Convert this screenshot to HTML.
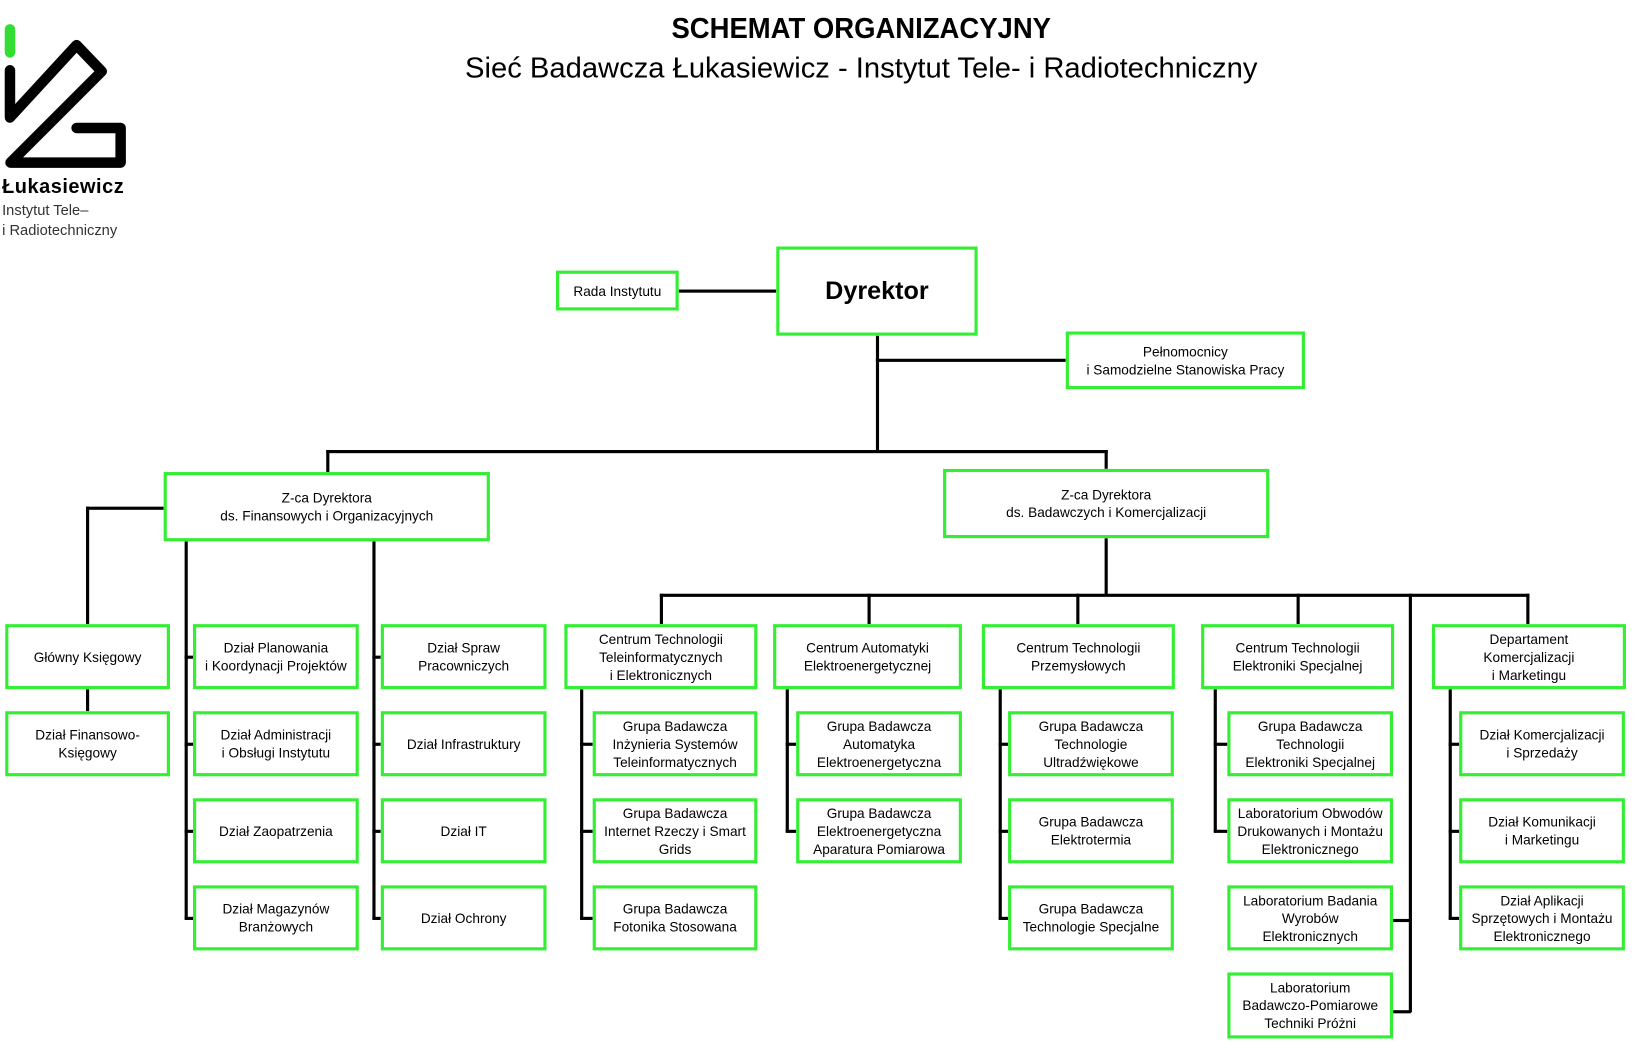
<!DOCTYPE html>
<html><head><meta charset="utf-8"><style>
html,body{margin:0;padding:0;background:#fff;}
body{width:1644px;height:1042px;overflow:hidden;position:relative;}
#w{position:absolute;left:0;top:0;width:1567px;height:993px;transform:scale(1.049,1.049);transform-origin:0 0;font-family:"Liberation Sans",Arial,sans-serif;}
.b{position:absolute;box-sizing:border-box;border:3px solid #33ee33;display:flex;align-items:center;justify-content:center;text-align:center;font-size:13px;line-height:17px;color:#000;background:#fff;}
.h{position:absolute;background:#000;height:2.5px;}
.v{position:absolute;background:#000;width:2.5px;}
.t{position:absolute;white-space:nowrap;}
</style></head><body><div id="w">
<svg style="position:absolute;left:0;top:0" width="140" height="170">
<line x1="9.5" y1="28" x2="9.5" y2="50" stroke="#33dd33" stroke-width="10" stroke-linecap="round"/>
<polyline points="9.5,67 9.5,112 73,43 97,68 10,155 115,155 115,122 73,122" fill="none" stroke="#000" stroke-width="10" stroke-linejoin="round" stroke-linecap="round"/>
</svg>
<div class="t" style="left:2px;top:168px;font-size:19px;font-weight:bold;letter-spacing:0.5px">Łukasiewicz</div>
<div class="t" style="left:2px;top:192px;font-size:14px;color:#333">Instytut Tele–</div>
<div class="t" style="left:2px;top:211px;font-size:14px;color:#333">i Radiotechniczny</div>
<div class="t" style="left:0;width:1642px;top:12px;text-align:center;font-size:27px;font-weight:bold;transform:scaleX(0.97)">SCHEMAT ORGANIZACYJNY</div>
<div class="t" style="left:0;width:1642px;top:50px;text-align:center;font-size:27px;transform:scaleX(1.03)">Sieć Badawcza Łukasiewicz - Instytut Tele- i Radiotechniczny</div>

<!-- lines -->
<div class="h" style="left:647px;top:276px;width:93px"></div>
<div class="v" style="left:835px;top:320px;height:111px"></div>
<div class="h" style="left:835px;top:342px;width:181px"></div>
<div class="h" style="left:311px;top:429px;width:745px"></div>
<div class="v" style="left:311px;top:429px;height:21px"></div>
<div class="v" style="left:1053px;top:429px;height:18px"></div>
<div class="h" style="left:82px;top:483px;width:74px"></div>
<div class="v" style="left:82px;top:483px;height:112px"></div>
<div class="v" style="left:82px;top:657px;height:21px"></div>
<div class="v" style="left:176px;top:516px;height:360px"></div>
<div class="v" style="left:355px;top:516px;height:360px"></div>
<div class="h" style="left:176px;top:625px;width:8px"></div><div class="h" style="left:176px;top:708px;width:8px"></div><div class="h" style="left:176px;top:791px;width:8px"></div><div class="h" style="left:176px;top:874px;width:8px"></div>
<div class="h" style="left:355px;top:625px;width:8px"></div><div class="h" style="left:355px;top:708px;width:8px"></div><div class="h" style="left:355px;top:791px;width:8px"></div><div class="h" style="left:355px;top:874px;width:8px"></div>
<div class="v" style="left:1053px;top:513px;height:55px"></div>
<div class="h" style="left:629px;top:566px;width:829px"></div>
<div class="v" style="left:629px;top:566px;height:29px"></div>
<div class="v" style="left:827px;top:566px;height:29px"></div>
<div class="v" style="left:1026px;top:566px;height:29px"></div>
<div class="v" style="left:1236px;top:566px;height:29px"></div>
<div class="v" style="left:1455px;top:566px;height:29px"></div>
<div class="v" style="left:1343px;top:566px;height:399px"></div>
<div class="h" style="left:1328px;top:876px;width:17px"></div>
<div class="h" style="left:1328px;top:963px;width:17px"></div>
<div class="v" style="left:553px;top:657px;height:219px"></div>
<div class="h" style="left:553px;top:708px;width:12px"></div><div class="h" style="left:553px;top:791px;width:12px"></div><div class="h" style="left:553px;top:874px;width:12px"></div>
<div class="v" style="left:749px;top:657px;height:136px"></div>
<div class="h" style="left:749px;top:708px;width:10px"></div><div class="h" style="left:749px;top:791px;width:10px"></div>
<div class="v" style="left:952px;top:657px;height:219px"></div>
<div class="h" style="left:952px;top:708px;width:9px"></div><div class="h" style="left:952px;top:791px;width:9px"></div><div class="h" style="left:952px;top:874px;width:9px"></div>
<div class="v" style="left:1157px;top:657px;height:136px"></div>
<div class="h" style="left:1157px;top:708px;width:13px"></div><div class="h" style="left:1157px;top:791px;width:13px"></div>
<div class="v" style="left:1381px;top:657px;height:219px"></div>
<div class="h" style="left:1381px;top:708px;width:10px"></div><div class="h" style="left:1381px;top:791px;width:10px"></div><div class="h" style="left:1381px;top:874px;width:10px"></div>

<!-- boxes -->
<div class="b" style="left:530px;top:258px;width:117px;height:38px">Rada Instytutu</div>
<div class="b" style="left:740px;top:235px;width:192px;height:85px;font-size:24px;font-weight:bold">Dyrektor</div>
<div class="b" style="left:1016px;top:316px;width:228px;height:55px">Pełnomocnicy<br>i Samodzielne Stanowiska Pracy</div>
<div class="b" style="left:156px;top:450px;width:311px;height:66px">Z-ca Dyrektora<br>ds. Finansowych i Organizacyjnych</div>
<div class="b" style="left:899px;top:447px;width:311px;height:66px">Z-ca Dyrektora<br>ds. Badawczych i Komercjalizacji</div>

<div class="b" style="left:5px;top:595px;width:157px;height:62px">Główny Księgowy</div>
<div class="b" style="left:184px;top:595px;width:158px;height:62px">Dział Planowania<br>i Koordynacji Projektów</div>
<div class="b" style="left:363px;top:595px;width:158px;height:62px">Dział Spraw<br>Pracowniczych</div>
<div class="b" style="left:538px;top:595px;width:184px;height:62px">Centrum Technologii<br>Teleinformatycznych<br>i Elektronicznych</div>
<div class="b" style="left:737px;top:595px;width:180px;height:62px">Centrum Automatyki<br>Elektroenergetycznej</div>
<div class="b" style="left:936px;top:595px;width:184px;height:62px">Centrum Technologii<br>Przemysłowych</div>
<div class="b" style="left:1145px;top:595px;width:184px;height:62px">Centrum Technologii<br>Elektroniki Specjalnej</div>
<div class="b" style="left:1365px;top:595px;width:185px;height:62px">Departament<br>Komercjalizacji<br>i Marketingu</div>

<div class="b" style="left:5px;top:678px;width:157px;height:62px">Dział Finansowo-<br>Księgowy</div>
<div class="b" style="left:184px;top:678px;width:158px;height:62px">Dział Administracji<br>i Obsługi Instytutu</div>
<div class="b" style="left:363px;top:678px;width:158px;height:62px">Dział Infrastruktury</div>
<div class="b" style="left:565px;top:678px;width:157px;height:62px">Grupa Badawcza<br>Inżynieria Systemów<br>Teleinformatycznych</div>
<div class="b" style="left:759px;top:678px;width:158px;height:62px">Grupa Badawcza<br>Automatyka<br>Elektroenergetyczna</div>
<div class="b" style="left:961px;top:678px;width:158px;height:62px">Grupa Badawcza<br>Technologie<br>Ultradźwiękowe</div>
<div class="b" style="left:1170px;top:678px;width:158px;height:62px">Grupa Badawcza<br>Technologii<br>Elektroniki Specjalnej</div>
<div class="b" style="left:1391px;top:678px;width:158px;height:62px">Dział Komercjalizacji<br>i Sprzedaży</div>

<div class="b" style="left:184px;top:761px;width:158px;height:62px">Dział Zaopatrzenia</div>
<div class="b" style="left:363px;top:761px;width:158px;height:62px">Dział IT</div>
<div class="b" style="left:565px;top:761px;width:157px;height:62px">Grupa Badawcza<br>Internet Rzeczy i Smart<br>Grids</div>
<div class="b" style="left:759px;top:761px;width:158px;height:62px">Grupa Badawcza<br>Elektroenergetyczna<br>Aparatura Pomiarowa</div>
<div class="b" style="left:961px;top:761px;width:158px;height:62px">Grupa Badawcza<br>Elektrotermia</div>
<div class="b" style="left:1170px;top:761px;width:158px;height:62px">Laboratorium Obwodów<br>Drukowanych i Montażu<br>Elektronicznego</div>
<div class="b" style="left:1391px;top:761px;width:158px;height:62px">Dział Komunikacji<br>i Marketingu</div>

<div class="b" style="left:184px;top:844px;width:158px;height:62px">Dział Magazynów<br>Branżowych</div>
<div class="b" style="left:363px;top:844px;width:158px;height:62px">Dział Ochrony</div>
<div class="b" style="left:565px;top:844px;width:157px;height:62px">Grupa Badawcza<br>Fotonika Stosowana</div>
<div class="b" style="left:961px;top:844px;width:158px;height:62px">Grupa Badawcza<br>Technologie Specjalne</div>
<div class="b" style="left:1170px;top:844px;width:158px;height:62px">Laboratorium Badania<br>Wyrobów<br>Elektronicznych</div>
<div class="b" style="left:1391px;top:844px;width:158px;height:62px">Dział Aplikacji<br>Sprzętowych i Montażu<br>Elektronicznego</div>

<div class="b" style="left:1170px;top:927px;width:158px;height:63px">Laboratorium<br>Badawczo-Pomiarowe<br>Techniki Próżni</div>
</div></body></html>
